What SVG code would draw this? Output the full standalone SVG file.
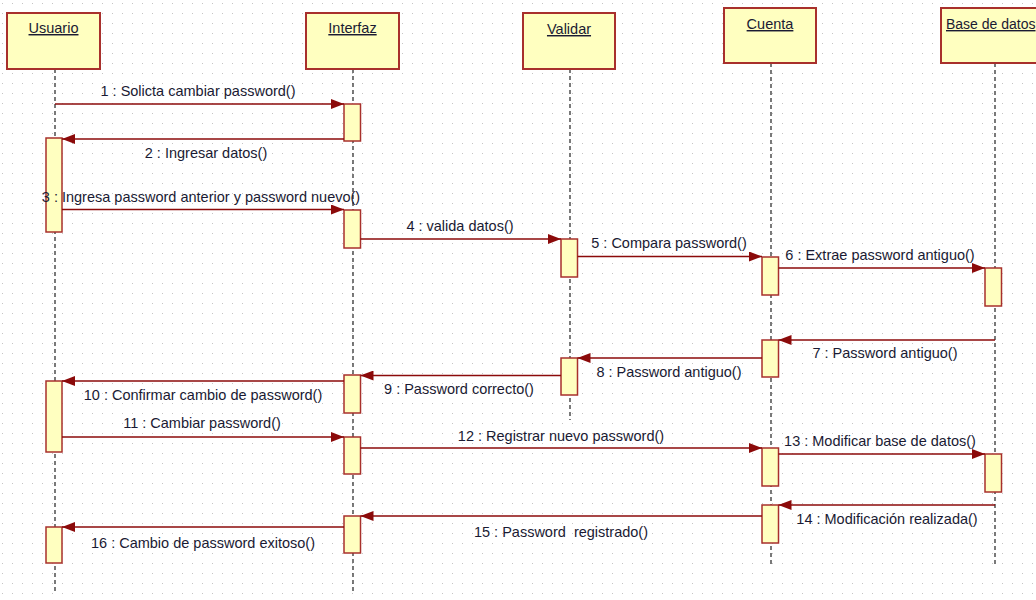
<svg xmlns="http://www.w3.org/2000/svg" width="1036" height="600" viewBox="0 0 1036 600">
<defs>
<pattern id="grid" x="0" y="3" width="10" height="10" patternUnits="userSpaceOnUse">
<rect x="2" y="0" width="1" height="1" fill="#c4c4c4"/>
</pattern>
<marker id="ah" markerWidth="13" markerHeight="10" refX="13" refY="5" orient="auto" markerUnits="userSpaceOnUse">
<path d="M0,0 L13,5 L0,10 Z" fill="#8b0a0a"/>
</marker>
<style>
.head{fill:#ffffc0;stroke:#a8302c;stroke-width:2}
.act{fill:#ffffc0;stroke:#a8302c;stroke-width:1.5}
.life{stroke:#333;stroke-width:1.3;stroke-dasharray:4,3;fill:none}
.msg{stroke:#8b0a0a;stroke-width:1.5;fill:none;marker-end:url(#ah)}
.lbl{font-family:"Liberation Sans",Arial,sans-serif;font-size:14.5px;fill:#1a1a33}
.hl{font-family:"Liberation Sans",Arial,sans-serif;font-size:14.5px;fill:#1a1a33;text-decoration:underline}
</style>
</defs>
<rect width="1036" height="600" fill="#ffffff"/>
<rect width="1036" height="600" fill="url(#grid)"/>

<g id="usuario">
<line class="life" x1="55" y1="69" x2="55" y2="592"/>
<rect class="head" x="7" y="13" width="93" height="56"/>
<text class="hl" x="53.5" y="33" text-anchor="middle">Usuario</text>
<rect class="act" x="46" y="138" width="16" height="94"/>
<rect class="act" x="46" y="381" width="16" height="71"/>
<rect class="act" x="46" y="527" width="16" height="36"/>
</g>

<g id="interfaz">
<line class="life" x1="353" y1="69" x2="353" y2="592"/>
<rect class="head" x="306" y="13" width="93" height="56"/>
<text class="hl" x="352.5" y="33" text-anchor="middle">Interfaz</text>
<rect class="act" x="344" y="104" width="16.5" height="37"/>
<rect class="act" x="344" y="210" width="16.5" height="38"/>
<rect class="act" x="344" y="375" width="16.5" height="38"/>
<rect class="act" x="344" y="437" width="16.5" height="37"/>
<rect class="act" x="344" y="516" width="16.5" height="37"/>
</g>

<g id="validar">
<line class="life" x1="570" y1="69" x2="570" y2="420"/>
<rect class="head" x="523" y="13" width="92" height="56"/>
<text class="hl" x="569" y="34" text-anchor="middle">Validar</text>
<rect class="act" x="561" y="239" width="16.5" height="38"/>
<rect class="act" x="561" y="358" width="16.5" height="37"/>
</g>

<g id="cuenta">
<line class="life" x1="771" y1="63" x2="771" y2="567"/>
<rect class="head" x="724" y="8" width="92" height="55"/>
<text class="hl" x="770" y="29" text-anchor="middle">Cuenta</text>
<rect class="act" x="762" y="257" width="16.5" height="38"/>
<rect class="act" x="762" y="340" width="16.5" height="37"/>
<rect class="act" x="762" y="448" width="16.5" height="38"/>
<rect class="act" x="762" y="505" width="16.5" height="38"/>
</g>

<g id="base-de-datos">
<line class="life" x1="995" y1="63" x2="995" y2="567"/>
<rect class="head" x="941" y="8" width="110" height="55"/>
<text class="hl" x="946" y="29" style="font-size:14px">Base de datos</text>
<rect class="act" x="985" y="268" width="16.5" height="38"/>
<rect class="act" x="985" y="454" width="16.5" height="38"/>
</g>

<g id="connectors">
<line class="msg" x1="55" y1="104" x2="344" y2="104"/>
<line class="msg" x1="344" y1="139" x2="62" y2="139"/>
<line class="msg" x1="62" y1="209.5" x2="344" y2="209.5"/>
<line class="msg" x1="360.5" y1="239" x2="561" y2="239"/>
<line class="msg" x1="577.5" y1="256.5" x2="762" y2="256.5"/>
<line class="msg" x1="778.5" y1="268" x2="985" y2="268"/>
<line class="msg" x1="995" y1="340" x2="778.5" y2="340"/>
<line class="msg" x1="762" y1="358" x2="577.5" y2="358"/>
<line class="msg" x1="561" y1="375.5" x2="360.5" y2="375.5"/>
<line class="msg" x1="344" y1="381" x2="62" y2="381"/>
<line class="msg" x1="62" y1="437" x2="344" y2="437"/>
<line class="msg" x1="360.5" y1="448" x2="762" y2="448"/>
<line class="msg" x1="778.5" y1="454" x2="985" y2="454"/>
<line class="msg" x1="995" y1="505" x2="778.5" y2="505"/>
<line class="msg" x1="762" y1="516" x2="360.5" y2="516"/>
<line class="msg" x1="344" y1="527" x2="62" y2="527"/>
</g>

<g id="labels">
<text class="lbl" x="198" y="96" text-anchor="middle">1 : Solicta cambiar password()</text>
<text class="lbl" x="206" y="158" text-anchor="middle">2 : Ingresar datos()</text>
<text class="lbl" x="201" y="202" text-anchor="middle">3 : Ingresa password anterior y password nuevo()</text>
<text class="lbl" x="460" y="231" text-anchor="middle">4 : valida datos()</text>
<text class="lbl" x="669" y="248" text-anchor="middle">5 : Compara password()</text>
<text class="lbl" x="880" y="260" text-anchor="middle">6 : Extrae password antiguo()</text>
<text class="lbl" x="885" y="358" text-anchor="middle">7 : Password antiguo()</text>
<text class="lbl" x="669" y="377" text-anchor="middle">8 : Password antiguo()</text>
<text class="lbl" x="459" y="394" text-anchor="middle">9 : Password correcto()</text>
<text class="lbl" x="203" y="400" text-anchor="middle">10 : Confirmar cambio de password()</text>
<text class="lbl" x="202" y="428" text-anchor="middle">11 : Cambiar password()</text>
<text class="lbl" x="561" y="441" text-anchor="middle">12 : Registrar nuevo password()</text>
<text class="lbl" x="880" y="446" text-anchor="middle">13 : Modificar base de datos()</text>
<text class="lbl" x="887" y="524" text-anchor="middle">14 : Modificación realizada()</text>
<text class="lbl" x="561" y="537" xml:space="preserve" text-anchor="middle">15 : Password  registrado()</text>
<text class="lbl" x="203" y="548" text-anchor="middle">16 : Cambio de password exitoso()</text>
</g>
</svg>
